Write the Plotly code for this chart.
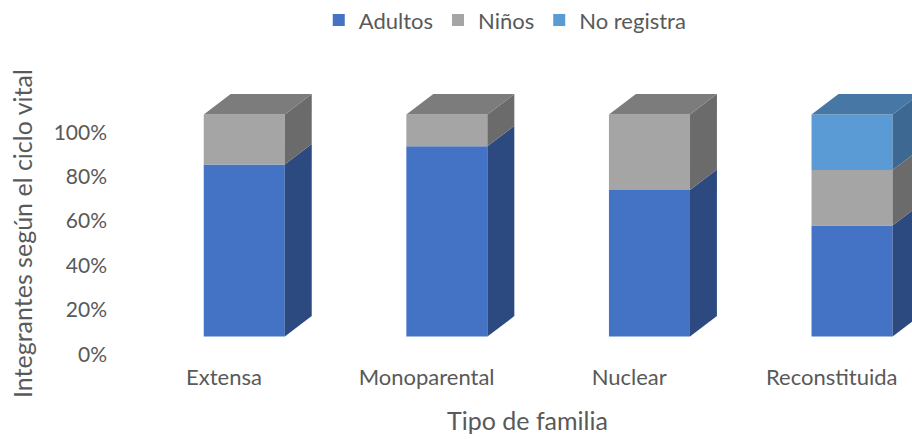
import plotly.graph_objects as go

categories = ["Extensa", "Monoparental", "Nuclear", "Reconstituida"]
adultos = [0.775, 0.857, 0.66, 0.50]
ninos = [0.225, 0.143, 0.34, 0.25]
no_registra = [0.0, 0.0, 0.0, 0.25]
y_ticks = [0, 0.2, 0.4, 0.6, 0.8, 1.0]

BASE = 0.08     # floor offset of front face
SHIFT = 0.10    # front face offset from category tick
W = 0.40        # bar width
DX = 0.133      # depth x
DY = 0.092      # depth y

series = [
    ("Adultos", adultos, "#4472C4", "#2C4A80", "#36599A"),
    ("Niños", ninos, "#A5A5A5", "#6B6B6B", "#7C7C7C"),
    ("No registra", no_registra, "#5B9BD5", "#3C6891", "#4778A5"),
]

FONT = "Lato"
TXT = "#595959"

fig = go.Figure()
cum = [0.0] * len(categories)
top_color = [None] * len(categories)
for name, vals, cf, cs, ct in series:
    xs = [i + SHIFT for i in range(len(categories))]
    fig.add_trace(go.Bar(
        x=xs, y=vals, base=[BASE + c for c in cum], width=W,
        marker=dict(color=cf, line=dict(width=0)), name=name,
        hoverinfo="skip",
    ))
    for i, v in enumerate(vals):
        if v <= 0:
            continue
        xr = i + SHIFT + W / 2
        y0 = BASE + cum[i]
        y1 = y0 + v
        fig.add_trace(go.Scatter(
            x=[xr, xr + DX, xr + DX, xr, xr],
            y=[y0, y0 + DY, y1 + DY, y1, y0],
            fill="toself", fillcolor=cs, mode="lines",
            line=dict(width=0, color=cs), showlegend=False, hoverinfo="skip",
        ))
        top_color[i] = ct
    cum = [c + v for c, v in zip(cum, vals)]

for i in range(len(categories)):
    xl = i + SHIFT - W / 2
    xr = i + SHIFT + W / 2
    yt = BASE + cum[i]
    fig.add_trace(go.Scatter(
        x=[xl, xl + DX, xr + DX, xr, xl],
        y=[yt, yt + DY, yt + DY, yt, yt],
        fill="toself", fillcolor=top_color[i], mode="lines",
        line=dict(width=0, color=top_color[i]), showlegend=False, hoverinfo="skip",
    ))

fig.update_layout(
    width=912, height=439,
    margin=dict(l=108, r=0, t=50, b=77, autoexpand=False),
    barmode="overlay",
    plot_bgcolor="white", paper_bgcolor="white",
    font=dict(family=FONT, color=TXT, size=21),
    showlegend=True,
    legend=dict(orientation="h", xref="container", yref="container",
                x=0.554, xanchor="center", y=0.954, yanchor="middle",
                font=dict(size=22, color=TXT), traceorder="normal"),
    xaxis=dict(range=[-0.5726, 3.3959], tickvals=list(range(len(categories))),
               ticktext=categories, showgrid=False, zeroline=False,
               showline=False, ticks="", automargin=False,
               tickfont=dict(size=22, color=TXT)),
    yaxis=dict(range=[-0.0347, 1.3707], tickvals=y_ticks, tickformat=".0%",
               showgrid=False, zeroline=False, showline=False, ticks="",
               automargin=False, tickfont=dict(size=21, color=TXT)),
    annotations=[
        dict(text="Integrantes según el ciclo vital", xref="paper", yref="paper",
             x=(22 - 108) / 804, y=(362 - 234) / 312, textangle=-90, showarrow=False,
             font=dict(size=25, color=TXT), xanchor="center", yanchor="middle"),
        dict(text="Tipo de familia", xref="paper", yref="paper",
             x=(527 - 108) / 804, y=(362 - 420) / 312, showarrow=False,
             font=dict(size=25, color=TXT), xanchor="center", yanchor="middle"),
    ],
)

fig.write_html("out.html",
               config={"displayModeBar": False, "staticPlot": True},
               post_script="document.body.style.margin='0';document.body.style.overflow='hidden';")
